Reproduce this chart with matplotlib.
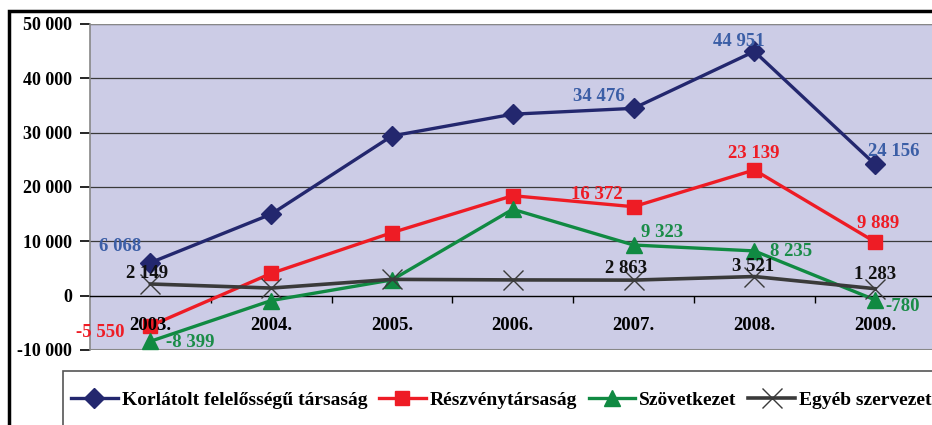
import matplotlib
matplotlib.use("Agg")
import matplotlib.pyplot as plt
from matplotlib.patches import Rectangle

plt.rcParams['font.family'] = ['Liberation Serif', 'DejaVu Serif']
plt.rcParams['font.weight'] = 'bold'

categories = ["2003.", "2004.", "2005.", "2006.", "2007.", "2008.", "2009."]
korlatolt = [6068, 15000, 29400, 33400, 34476, 44951, 24156]
reszveny = [-5550, 4100, 11600, 18400, 16372, 23139, 9889]
szovetkezet = [-8399, -900, 2900, 15900, 9323, 8235, -780]
egyeb = [2149, 1400, 3000, 2900, 2863, 3521, 1283]
series_names = ["Korlátolt felelősségű társaság", "Részvénytársaság", "Szövetkezet", "Egyéb szervezet"]
label_idx = [0, 4, 5, 6]
yticks = [-10000, 0, 10000, 20000, 30000, 40000, 50000]

def fmt(v):
    s = f"{abs(v):,}".replace(",", " ")
    return ("-" if v < 0 else "") + s

FS = 13.5
fig = plt.figure(figsize=(9.32, 4.25), dpi=100)
W, H = 932, 425
ax = fig.add_axes([90 / W, 1 - 350 / H, (935.5 - 90) / W, (350 - 24) / H])
ax.set_facecolor('#ccccE6')
ax.set_xlim(-0.5, 6.5)
ax.set_ylim(-10000, 50000)

for y in yticks[2:]:
    ax.axhline(y, color='#3a3a3a', lw=0.9, zorder=1)
ax.axhline(-10000, color='#888888', lw=1.5, zorder=1)
ax.axhline(50000, color='#888888', lw=1.5, zorder=1)

ax.spines['top'].set_visible(False)
ax.spines['right'].set_visible(False)
ax.spines['left'].set_color('#888888')
ax.spines['left'].set_linewidth(1.2)
ax.spines['bottom'].set_position(('data', 0))
ax.spines['bottom'].set_color('black')
ax.spines['bottom'].set_linewidth(1.0)

ax.set_yticks(yticks)
ax.set_yticklabels([fmt(v) for v in yticks], fontsize=13, fontweight='bold')
ax.tick_params(axis='y', length=7, width=1.2, color='black', pad=6)
ax.set_xticks([i + 0.5 for i in range(len(categories) - 1)])
ax.set_xticklabels([])
ax.tick_params(axis='x', length=5, width=1, color='black', direction='out')

for i, c in enumerate(categories):
    ax.text(i, -5500, c, ha='center', va='center', fontsize=FS, fontweight='bold', color='black', zorder=6)

x = list(range(len(categories)))
styles = [
    (korlatolt, '#23276e', 'D', 10, '#3b5ea6', [(-30, 16), (-35, 12), (-16, 10), (19, 13)]),
    (reszveny, '#ee1c25', 's', 10.5, '#ee1c25', [(-50, -7), (-37, 12), (-1, 16), (3, 18)]),
    (szovetkezet, '#108a42', '^', 12, '#1a8c48', [(40, -1), (29, 13), (37, -1), (28, -7)]),
    (egyeb, '#3a3a3a', 'x', 15, '#111111', [(-3, 10), (-7, 12), (-1, 10), (0, 14)]),
]
handles = []
for (vals, col, mk, ms, lcol, offs), name in zip(styles, series_names):
    if mk == 'x':
        ln, = ax.plot(x, vals, color=col, lw=2.6, marker=mk, ms=ms, mew=1.0, mec=col, zorder=3, label=name)
    else:
        ln, = ax.plot(x, vals, color=col, lw=2.4, marker=mk, ms=ms, mec=col, mfc=col, zorder=3, label=name)
    handles.append(ln)
    for k, (dx, dy) in zip(label_idx, offs):
        ax.annotate(fmt(vals[k]), (k, vals[k]), xytext=(dx, dy), textcoords='offset pixels',
                    ha='center', va='center', fontsize=FS, fontweight='bold', color=lcol, zorder=7,
                    annotation_clip=False)

# outer frame
fig.patches.append(Rectangle((8.5 / W, -0.1), 1.2, (1 - 11 / H) + 0.1, transform=fig.transFigure,
                             fill=False, edgecolor='black', lw=2.5, zorder=0))

# legend box
fig.patches.append(Rectangle((63 / W, -0.1), 1.2, (1 - 371 / H) + 0.1, transform=fig.transFigure,
                             fill=False, edgecolor='#555555', lw=1.2, zorder=0))
leg = fig.legend(handles=handles, loc='center left', bbox_to_anchor=(71 / W, 1 - 400 / H), ncol=4,
                 frameon=False, handlelength=2.4, handletextpad=0.2, columnspacing=0.6,
                 borderpad=0, borderaxespad=0,
                 prop={'weight': 'bold', 'size': 14, 'family': ['Liberation Serif']})

fig.savefig('out.png', dpi=100)
